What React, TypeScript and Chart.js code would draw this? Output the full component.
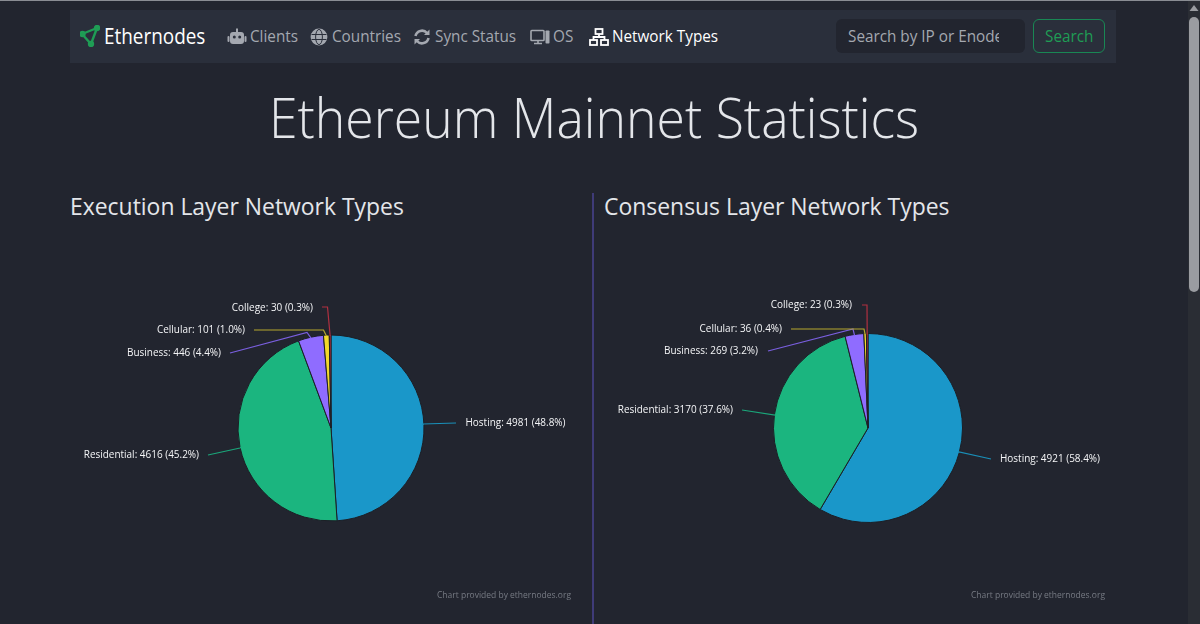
import React, { useEffect, useRef } from 'react';
import { Chart, registerables } from 'chart.js';

Chart.register(...registerables);

const categories = ['Hosting', 'Residential', 'Business', 'Cellular', 'College'];
const executionValues = [4981, 4616, 446, 101, 30];
const executionPercents = ['48.8', '45.2', '4.4', '1.0', '0.3'];
const consensusValues = [4921, 3170, 269, 36, 23];
const consensusPercents = ['58.4', '37.6', '3.2', '0.4', '0.3'];
const sliceColors = ['#1a97c9', '#1bb57f', '#8f6cff', '#f3d92b', '#dc3545'];
const leaderColors = ['#1a8fb8', '#1ba67a', '#7a5fe0', '#b5a82e', '#b03040'];

const navItems = ['Clients', 'Countries', 'Sync Status', 'OS', 'Network Types'];
const navX = [250, 332, 435, 553, 612];

const FONT = '"Open Sans", "Noto Sans", sans-serif';
const BG = '#22252f';

// label layout in canvas pixels: text anchor, then the bend of the leader line
const execLayout = {
  anchor: [[395.5, 183], [129, 215], [151, 113], [175, 90], [243, 68]],
  lineEnd: [[386, 183], [138, 215], [160, 113], [184, 90], [252, 67]],
  bend: [[353, 184], [170, 208], [237, 92.5], [253.5, 90], [257.5, 67]],
};
const consLayout = {
  anchor: [[400, 219], [133, 170], [158, 111], [182, 89], [252, 65]],
  lineEnd: [[391, 219], [142, 170], [168, 111], [191, 89], [262, 65]],
  bend: [[359, 212], [175, 175], [253, 89], [264, 89], [267, 65]],
};

type Layout = typeof execLayout;

function leaderPlugin(percents: string[], layout: Layout) {
  return {
    id: 'leaderLabels',
    afterDatasetsDraw(chart: any) {
      const { ctx } = chart;
      const meta = chart.getDatasetMeta(0);
      const values = chart.data.datasets[0].data;
      ctx.save();
      meta.data.forEach((arc: any, i: number) => {
        const mid = (arc.startAngle + arc.endAngle) / 2;
        const edgeX = arc.x + Math.cos(mid) * (arc.outerRadius - 1);
        const edgeY = arc.y + Math.sin(mid) * (arc.outerRadius - 1);
        const [bx, by] = layout.bend[i];
        const [lx, ly] = layout.lineEnd[i];
        ctx.beginPath();
        ctx.moveTo(lx, ly);
        ctx.lineTo(bx, by);
        ctx.lineTo(edgeX, edgeY);
        ctx.strokeStyle = leaderColors[i];
        ctx.lineWidth = 1.2;
        ctx.stroke();

        // the original face is narrower than anything installed
        const [tx, ty] = layout.anchor[i];
        ctx.save();
        ctx.translate(tx, ty);
        ctx.scale(0.94, 1);
        ctx.fillStyle = '#f4f5f7';
        ctx.font = `10.6px ${FONT}`;
        ctx.textBaseline = 'middle';
        ctx.textAlign = i === 0 ? 'left' : 'right';
        ctx.fillText(`${categories[i]}: ${values[i]} (${percents[i]}%)`, 0, 0);
        ctx.restore();
      });
      ctx.restore();
    },
  };
}

const PieChart: React.FC<{
  values: number[];
  percents: string[];
  layout: Layout;
  left: number;
  width: number;
  pad: number;
}> = ({ values, percents, layout, left, width, pad }) => {
  const canvasRef = useRef<HTMLCanvasElement | null>(null);

  useEffect(() => {
    const canvas = canvasRef.current;
    if (!canvas) return;
    const chart = new Chart(canvas, {
      type: 'pie',
      data: {
        labels: categories,
        datasets: [
          {
            data: values,
            backgroundColor: sliceColors,
            borderColor: '#1c1f26',
            borderWidth: 1,
          },
        ],
      },
      options: {
        animation: false,
        responsive: false,
        layout: { padding: { top: pad, bottom: pad } },
        plugins: { legend: { display: false }, tooltip: { enabled: false } },
      },
      plugins: [leaderPlugin(percents, layout)],
    });
    return () => chart.destroy();
  }, []);

  return (
    <canvas
      ref={canvasRef}
      width={width}
      height={376}
      style={{ position: 'absolute', left, top: 240, width, height: 376 }}
    />
  );
};

const Icon: React.FC<{ name: string; x: number; color: string }> = ({ name, x, color }) => {
  const common = { position: 'absolute' as const, left: x, top: 27, width: 20, height: 20 };
  if (name === 'Clients')
    return (
      <svg style={common} viewBox="0 0 20 20" fill={color}>
        <rect x="3" y="5" width="14" height="12" rx="3" />
        <rect x="0.5" y="9" width="2" height="6" rx="1" />
        <rect x="17.5" y="9" width="2" height="6" rx="1" />
        <rect x="9" y="1.5" width="2" height="4" />
        <circle cx="7.3" cy="10" r="1.5" fill="#2a2f3b" />
        <circle cx="12.7" cy="10" r="1.5" fill="#2a2f3b" />
      </svg>
    );
  if (name === 'Countries')
    return (
      <svg style={common} viewBox="0 0 20 20" fill="none" stroke={color} strokeWidth="1.6">
        <circle cx="10" cy="10" r="7.6" fill={color} />
        <ellipse cx="10" cy="10" rx="3.4" ry="7.6" stroke="#2a2f3b" strokeWidth="1" />
        <path d="M2.5 7.5h15M2.5 12.5h15" stroke="#2a2f3b" strokeWidth="1" />
      </svg>
    );
  if (name === 'Sync Status')
    return (
      <svg style={common} viewBox="0 0 20 20" fill="none" stroke={color} strokeWidth="2.6">
        <path d="M3.5 9a6.6 6.6 0 0 1 11.5-3" />
        <path d="M16.5 11a6.6 6.6 0 0 1-11.5 3" />
        <path d="M17.5 2.5v5.5h-5.5z" fill={color} stroke="none" />
        <path d="M2.5 17.5v-5.5h5.5z" fill={color} stroke="none" />
      </svg>
    );
  if (name === 'OS')
    return (
      <svg style={common} viewBox="0 0 20 20" fill="none" stroke={color} strokeWidth="1.6">
        <rect x="1" y="3.5" width="13" height="10" rx="0.8" />
        <path d="M4 16.5h8M8 13.5v3" />
        <rect x="15.5" y="3.5" width="4" height="13" rx="0.8" fill={color} stroke="none" />
      </svg>
    );
  return (
    <svg style={common} viewBox="0 0 20 20" fill="none" stroke={color} strokeWidth="1.8">
      <rect x="6.5" y="2" width="7" height="5" />
      <rect x="1" y="13" width="7" height="5" />
      <rect x="12" y="13" width="7" height="5" />
      <path d="M10 7v3M4.5 13v-3h11v3" />
    </svg>
  );
};

const text = (
  content: string,
  left: number,
  top: number,
  size: number,
  color: string,
  weight = 400,
  squeeze = 0.955,
) => (
  <div
    style={{
      position: 'absolute',
      left,
      top,
      fontSize: size,
      lineHeight: `${size * 1.3}px`,
      color,
      fontWeight: weight,
      whiteSpace: 'nowrap',
      fontFamily: FONT,
      transform: `scaleX(${squeeze})`,
      transformOrigin: 'left center',
    }}
  >
    {content}
  </div>
);

const App: React.FC = () => (
  <div style={{ position: 'fixed', left: 0, top: 0, width: 1200, height: 624, overflow: 'hidden', background: BG }}>
    <div style={{ position: 'absolute', left: 0, top: 0, width: 1200, height: 1, background: '#8a8d93' }} />

    {/* navbar */}
    <div style={{ position: 'absolute', left: 70, top: 10, width: 1046, height: 53, background: '#2a2f3b' }} />
    <svg style={{ position: 'absolute', left: 80, top: 25, width: 20, height: 22 }} viewBox="0 0 20 22" fill="none" stroke="#1f9d55" strokeWidth="2.4">
      <path d="M2 9 17 3 11 19z" />
      <circle cx="2.5" cy="9" r="2" fill="#1f9d55" />
      <circle cx="17" cy="3" r="2" fill="#1f9d55" />
      <circle cx="11" cy="19" r="2" fill="#1f9d55" />
    </svg>
    {text('Ethernodes', 104, 23, 21, '#ffffff', 400, 0.9)}
    {navItems.map((item, i) => {
      const active = item === 'Network Types';
      const color = active ? '#ffffff' : '#a4a8b0';
      return (
        <React.Fragment key={item}>
          <Icon name={item} x={navX[i] - 23} color={color} />
          {text(item, navX[i], 26, 16, color)}
        </React.Fragment>
      );
    })}
    <div style={{ position: 'absolute', left: 836, top: 19, width: 189, height: 34, borderRadius: 6, background: '#22252f', overflow: 'hidden' }}>
      <div style={{ position: 'absolute', left: 12, top: 0, width: 151, height: 34, overflow: 'hidden' }}>
        {text('Search by IP or Enode', 0, 7, 16, '#a4a8b0')}
      </div>
    </div>
    <div style={{ position: 'absolute', left: 1033, top: 19, width: 70, height: 32, borderRadius: 6, border: '1px solid #198754' }} />
    {text('Search', 1045, 26, 16, '#1f9d55')}

    {/* scrollbar */}
    <div style={{ position: 'absolute', left: 1188, top: 1, width: 12, height: 623, background: '#2a2d34' }} />
    <div style={{ position: 'absolute', left: 1189, top: 17, width: 10, height: 275, borderRadius: 5, background: '#9a9ca1' }} />
    <svg style={{ position: 'absolute', left: 1189, top: 4, width: 10, height: 8 }} viewBox="0 0 10 8">
      <path d="M5 1 9.5 7H0.5z" fill="#9a9ca1" />
    </svg>

    {text('Ethereum Mainnet Statistics', 269, 80, 56, '#e4e6ea', 300, 0.923)}
    {text('Execution Layer Network Types', 70, 190, 24, '#e4e6ea')}
    {text('Consensus Layer Network Types', 604, 190, 24, '#e4e6ea')}

    <div style={{ position: 'absolute', left: 592, top: 193, width: 2, height: 431, background: '#3f3b78' }} />

    <PieChart values={executionValues} percents={executionPercents} layout={execLayout} left={70} width={522} pad={94.5} />
    <PieChart values={consensusValues} percents={consensusPercents} layout={consLayout} left={600} width={536} pad={93} />

    {text('Chart provided by ethernodes.org', 437, 589, 9.5, '#777b84', 400, 0.893)}
    {text('Chart provided by ethernodes.org', 971, 589, 9.5, '#777b84', 400, 0.893)}
  </div>
);

export default App;
